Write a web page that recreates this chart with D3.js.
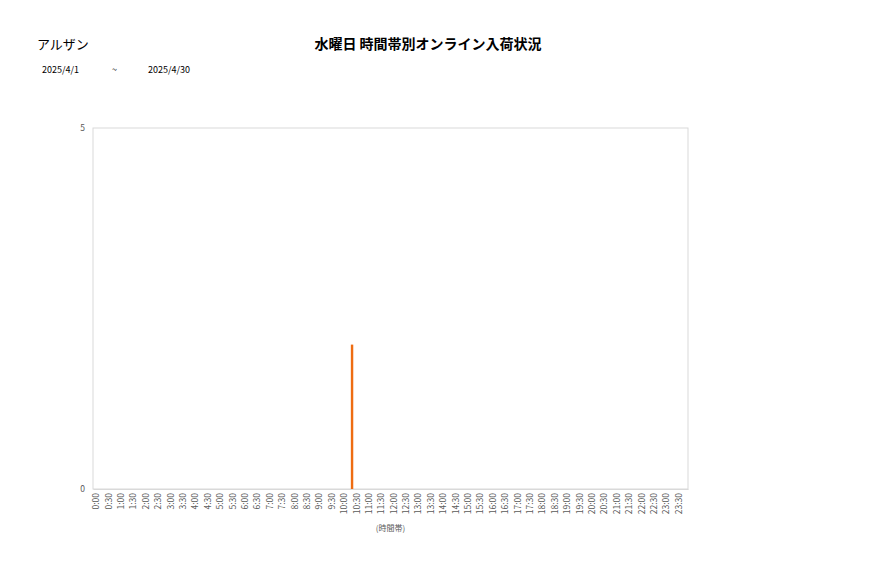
<!DOCTYPE html>
<html>
<head>
<meta charset="utf-8">
<script src="https://cdn.jsdelivr.net/npm/d3@7"></script>
<style>
    body { margin: 0; background: #fff; }
    text { font-family: "Noto Sans CJK JP", "Noto Sans", sans-serif; }
</style>
</head>
<body>
<div id="chart"></div>
<script>

// time slots 0:00 .. 23:30
const timeSlots = ["0:00","0:30","1:00","1:30","2:00","2:30","3:00","3:30","4:00","4:30",
    "5:00","5:30","6:00","6:30","7:00","7:30","8:00","8:30","9:00","9:30",
    "10:00","10:30","11:00","11:30","12:00","12:30","13:00","13:30","14:00","14:30",
    "15:00","15:30","16:00","16:30","17:00","17:30","18:00","18:30","19:00","19:30",
    "20:00","20:30","21:00","21:30","22:00","22:30","23:00","23:30"];

// one series per Wednesday in the period
const seriesNames = ["4/2", "4/9", "4/16", "4/23", "4/30"];
const seriesColors = ["#4472C4", "#A5A5A5", "#FFC000", "#5B9BD5", "#EE6C12"];

// arrivals per slot (only non-zero listed, everything else 0)
const wed0402 = [];
const wed0409 = [];
const wed0416 = [];
const wed0423 = [];
const wed0430 = [{time: "10:00", value: 2}];

const yTicks = [0, 5];

const seriesData = [wed0402, wed0409, wed0416, wed0423, wed0430];

let width = 877, height = 578;
let margin = {top: 128, right: 189, bottom: 89, left: 93};
let innerW = width - margin.left - margin.right;
let innerH = height - margin.top - margin.bottom;

let svg = d3.select("#chart").append("svg")
    .attr("width", width)
    .attr("height", height);

// headings
svg.append("text")
    .attr("x", 37).attr("y", 49)
    .attr("font-size", "13px")
    .attr("fill", "#000")
    .text("アルザン");

svg.append("text")
    .attr("x", 428).attr("y", 49)
    .attr("text-anchor", "middle")
    .attr("font-size", "14px")
    .attr("font-weight", "bold")
    .attr("fill", "#000")
    .text("水曜日 時間帯別オンライン入荷状況");

svg.append("text")
    .attr("x", 42).attr("y", 73)
    .attr("font-size", "9px")
    .text("2025/4/1");
svg.append("text")
    .attr("x", 112).attr("y", 73)
    .attr("font-size", "9px")
    .text("~");
svg.append("text")
    .attr("x", 148).attr("y", 73)
    .attr("font-size", "9px")
    .text("2025/4/30");

let g = svg.append("g")
    .attr("transform", `translate(${margin.left}, ${margin.top})`);

// scales
let x0 = d3.scaleBand()
    .domain(timeSlots)
    .range([0, innerW])
    .paddingInner(0)
    .paddingOuter(0);

let x1 = d3.scaleBand()
    .domain(seriesNames)
    .range([0, x0.bandwidth()])
    .padding(0.02);

let y = d3.scaleLinear()
    .domain([0, 5])
    .range([innerH, 0]);

// plot frame
g.append("rect")
    .attr("width", innerW)
    .attr("height", innerH)
    .attr("fill", "none")
    .attr("stroke", "#D9D9D9")
    .attr("stroke-width", 1);

// bars
seriesData.forEach((rows, i) => {
    g.selectAll(".bar-" + i)
        .data(rows.filter(d => d.value > 0))
        .join("rect")
        .attr("class", "bar-" + i)
        .attr("x", d => x0(d.time) + x1(seriesNames[i]))
        .attr("y", d => y(d.value))
        .attr("width", x1.bandwidth())
        .attr("height", d => innerH - y(d.value))
        .attr("fill", seriesColors[i]);
});

// x axis
let xAxisGroup = g.append("g")
    .attr("transform", `translate(0, ${innerH})`)
    .call(d3.axisBottom(x0).tickSize(0).tickPadding(0));

xAxisGroup.select(".domain").attr("stroke", "#D9D9D9");
xAxisGroup.selectAll("text")
    .attr("transform", "translate(0, 4) rotate(-90)")
    .attr("x", 0)
    .attr("y", 0)
    .attr("dy", "0")
    .attr("text-anchor", "end")
    .attr("font-size", "8.5px")
    .attr("fill", "#595959");

// y axis
let yAxisGroup = g.append("g")
    .call(d3.axisLeft(y).tickValues(yTicks).tickFormat(d3.format("d")).tickSize(0).tickPadding(8));

yAxisGroup.select(".domain").remove();
yAxisGroup.selectAll("text")
    .attr("font-size", "8.5px")
    .attr("fill", "#595959");

// x axis title
svg.append("text")
    .attr("x", margin.left + innerW / 2)
    .attr("y", 531)
    .attr("text-anchor", "middle")
    .attr("font-size", "8px")
    .attr("fill", "#595959")
    .text("(時間帯)");

</script>
</body>
</html>
